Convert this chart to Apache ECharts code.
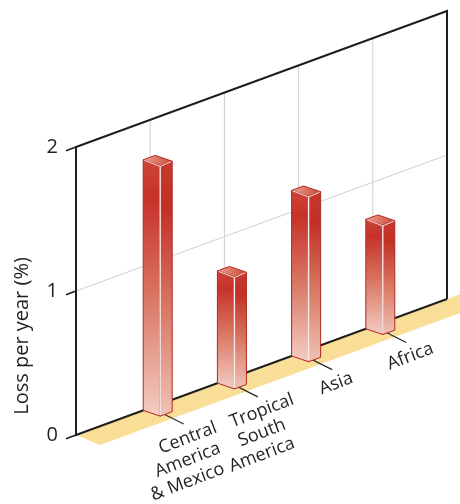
<!DOCTYPE html>
<html>
<head>
<meta charset="utf-8">
<script src="https://cdn.jsdelivr.net/npm/echarts@6/dist/echarts.min.js"></script>
<style>
  html, body { margin: 0; padding: 0; background: #ffffff; }
  #chart { width: 460px; height: 504px; }
</style>
</head>
<body>
<div id="chart"></div>
<script>
// Forest loss per year by region
const regions = ['Central\nAmerica\n& Mexico', 'Tropical\nSouth\nAmerica', 'Asia', 'Africa'];
const lossPerYear = [1.74, 0.78, 1.15, 0.76];
const yTicks = [0, 1, 2];
const yTitle = 'Loss per year (%)';

// Oblique projection: the category direction recedes up-right,
// the depth direction comes forward down-right.
const SLOPE = 136 / 371;
const DEPTH_SLOPE = 0.34;
const X_MAX = 5;

function proj(api, xv, yv) {
  const p = api.coord([xv, yv]);
  const ox = api.coord([0, 0])[0];
  return [p[0], p[1] - SLOPE * (p[0] - ox)];
}
function add(p, dx, dy) { return [p[0] + dx, p[1] + dy]; }

const chart = echarts.init(document.getElementById('chart'), null, { renderer: 'canvas' });

function renderFrame(params, api) {
  const children = [];
  const a0 = proj(api, 0, 0);
  const a5 = proj(api, X_MAX, 0);
  const run = a5[0] - a0[0] + 40;
  const backEnd = add(a0, run, -run * SLOPE);
  // floor strip
  children.push({
    type: 'polygon',
    shape: { points: [a0, backEnd, add(backEnd, 24, 10), add(a0, 24, 10)] },
    style: { fill: '#f9de98', stroke: null }
  });
  // grid on the back wall
  for (let k = 1; k < X_MAX; k++) {
    children.push({
      type: 'line',
      shape: (function () { const b = proj(api, k, 0), t = proj(api, k, yTicks[yTicks.length - 1]); return { x1: b[0], y1: b[1], x2: t[0], y2: t[1] }; })(),
      style: { stroke: '#cfcfcf', lineWidth: 1 }
    });
  }
  for (let j = 1; j < yTicks.length - 1; j++) {
    const l = proj(api, 0, yTicks[j]), r = proj(api, X_MAX, yTicks[j]);
    children.push({
      type: 'line',
      shape: { x1: l[0], y1: l[1], x2: r[0], y2: r[1] },
      style: { stroke: '#cfcfcf', lineWidth: 1 }
    });
  }
  // wall outline
  const yTop = yTicks[yTicks.length - 1];
  children.push({
    type: 'polyline',
    shape: { points: [proj(api, X_MAX, 0), proj(api, X_MAX, yTop), proj(api, 0, yTop), proj(api, 0, 0), proj(api, X_MAX, 0)] },
    style: { stroke: '#1e1e1e', lineWidth: 2, fill: null }
  });
  // slanted ticks on the value axis
  yTicks.forEach(function (t) {
    const p = proj(api, 0, t);
    children.push({
      type: 'line',
      shape: { x1: p[0], y1: p[1], x2: p[0] - 10, y2: p[1] + 10 * SLOPE },
      style: { stroke: '#1e1e1e', lineWidth: 1.6 }
    });
  });
  return { type: 'group', children: children };
}

function renderBar(params, api) {
  const xv = api.value(0), v = api.value(1), i = api.value(2);
  const base = proj(api, xv, 0);
  const top = proj(api, xv, v);
  const h = base[1] - top[1];
  const W = 12, D = 17, shift = 7;
  const p0 = add(base, -shift, shift * SLOPE);
  const p1 = add(p0, D, D * DEPTH_SLOPE);
  const p2 = add(p1, W, -W * SLOPE);
  const p3 = add(p0, W, -W * SLOPE);
  const t0 = add(p0, 0, -h), t1 = add(p1, 0, -h), t2 = add(p2, 0, -h), t3 = add(p3, 0, -h);

  const c = add(base, -1 + D / 2, SLOPE + (D / 2) * DEPTH_SLOPE);
  const e = add(c, 26, 13);

  const leftFill = new echarts.graphic.LinearGradient(0, 0, 0, 1, [
    { offset: 0, color: '#cc4638' }, { offset: 0.15, color: '#c6322a' },
    { offset: 0.5, color: '#d8705d' }, { offset: 1, color: '#f3cec3' }
  ]);
  const rightFill = new echarts.graphic.LinearGradient(0, 0, 0, 1, [
    { offset: 0, color: '#c53a2e' }, { offset: 0.18, color: '#c22f26' },
    { offset: 0.55, color: '#d7735f' }, { offset: 1, color: '#efc3b6' }
  ]);
  const topFill = new echarts.graphic.LinearGradient(0, 0, 1, 0, [
    { offset: 0, color: '#eba393' }, { offset: 1, color: '#cc4638' }
  ]);
  const edge = '#b3281f';

  const children = [
    { type: 'line', shape: { x1: c[0], y1: c[1], x2: e[0], y2: e[1] }, style: { stroke: '#2b2b2b', lineWidth: 1.2 } },
    { type: 'polygon', shape: { points: [p0, p1, t1, t0] }, style: { fill: leftFill, stroke: edge, lineWidth: 1 } },
    { type: 'polygon', shape: { points: [p1, p2, t2, t1] }, style: { fill: rightFill, stroke: edge, lineWidth: 1 } },
    { type: 'polygon', shape: { points: [t0, t1, t2, t3] }, style: { fill: topFill, stroke: edge, lineWidth: 1 } },
    { type: 'line', shape: { x1: p1[0], y1: p1[1] - 1, x2: t1[0], y2: t1[1] + 1 }, style: { stroke: 'rgba(255,255,255,0.9)', lineWidth: 1.4 } },
    { type: 'polyline', shape: { points: [add(t0, 1, 0.5), add(t1, 0, 0.8), add(t2, -1, 0.5)] }, style: { stroke: 'rgba(255,255,255,0.85)', lineWidth: 1, fill: null } }
  ];

  const lines = regions[i].split('\n');
  lines.forEach(function (txt, k) {
    children.push({
      type: 'text',
      x: e[0] + 4,
      y: e[1] + 14 + k * 22,
      rotation: 21 * Math.PI / 180,
      style: {
        text: txt,
        fill: '#231f20',
        font: '18px "Open Sans", sans-serif',
        align: 'center',
        verticalAlign: 'middle'
      }
    });
  });
  return { type: 'group', children: children };
}

const option = {
  animation: false,
  grid: { left: 76, right: 13, top: 147, bottom: 69 },
  xAxis: { type: 'value', min: 0, max: X_MAX, show: false },
  yAxis: {
    type: 'value', min: 0, max: 2, interval: 1,
    axisLine: { show: false }, axisTick: { show: false }, splitLine: { show: false },
    axisLabel: {
      margin: 18, padding: [8, 0, 0, 0],
      color: '#231f20', fontFamily: 'Open Sans', fontSize: 20
    }
  },
  graphic: [{
    type: 'text',
    x: 22, y: 336,
    rotation: Math.PI / 2,
    style: {
      text: yTitle, fill: '#231f20',
      font: '20px "Open Sans", sans-serif',
      align: 'center', verticalAlign: 'middle'
    }
  }],
  series: [
    {
      type: 'custom', name: 'frame', clip: false, silent: true, z: 1,
      renderItem: renderFrame,
      data: [[0, 0]]
    },
    {
      type: 'custom', name: 'Loss per year', clip: false, z: 2,
      renderItem: renderBar,
      encode: { x: 0, y: 1 },
      data: lossPerYear.map(function (v, i) { return [i + 1, v, i]; })
    }
  ]
};
chart.setOption(option);
</script>
</body>
</html>
